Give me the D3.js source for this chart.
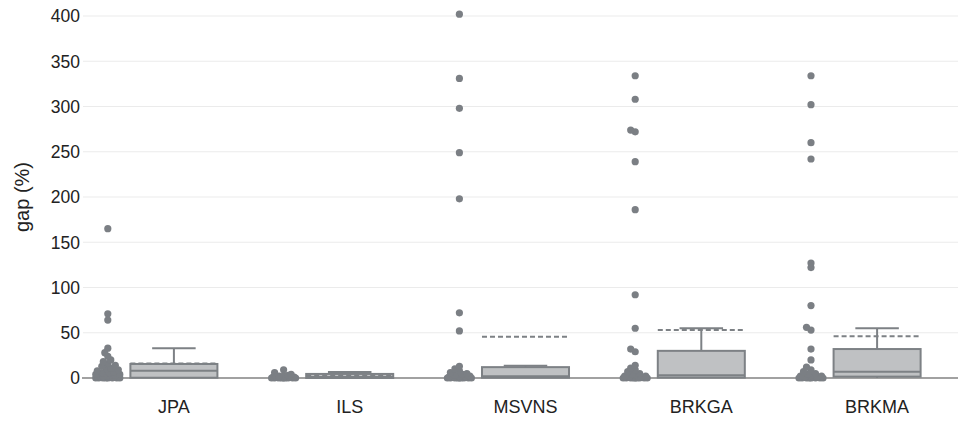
<!DOCTYPE html>
<html>
<head>
<meta charset="utf-8">
<script src="https://cdn.jsdelivr.net/npm/d3@7"></script>
<style>
    body { margin: 0; background: #fff; }
    svg { display: block; font-family: "Liberation Sans", Arial, sans-serif; }
</style>
</head>
<body>
<div class="chart"></div>
<script>
// categories and values
var categories = ["JPA", "ILS", "MSVNS", "BRKGA", "BRKMA"];

var pointsJPA   = [165, 71, 64, 33, 28, 24, 20, 18, 16, 14, 13, 11, 10, 9, 8, 7, 6, 6, 5, 4, 4, 3, 3, 2, 2, 2, 1, 1, 1, 1, 0.5, 0.5, 0.5, 0, 0, 0, 0, 0, 0, 0, 0];
var pointsILS   = [9, 6, 4, 3, 2, 2, 1.5, 1, 1, 1, 0.5, 0.5, 0.5, 0, 0, 0, 0, 0, 0, 0, 0, 0];
var pointsMSVNS = [402, 331, 298, 249, 198, 72, 52, 13, 10, 8, 6, 5, 4, 3, 2, 2, 1, 1, 1, 0.5, 0.5, 0, 0, 0, 0, 0, 0, 0, 0, 0];
var pointsBRKGA = [334, 308, 274, 272, 239, 186, 92, 55, 32, 29, 14, 11, 9, 7, 5, 4, 3, 2, 2, 1, 1, 0.5, 0.5, 0, 0, 0, 0, 0, 0, 0, 0, 0];
var pointsBRKMA = [334, 302, 260, 242, 127, 122, 80, 56, 53, 32, 20, 12, 9, 7, 5, 4, 3, 2, 2, 1, 1, 0.5, 0.5, 0, 0, 0, 0, 0, 0, 0, 0];

var q1Values     = [0.3, 0, 0.3, 0.5, 1.5];
var medianValues = [8, 1, 2, 3, 7];
var q3Values     = [15.5, 4.5, 12, 30, 32];
var upperFences  = [33, 6.5, 13.5, 55, 55];
var lowerFences  = [0, 0, 0, 0, 0];
var meanValues   = [16, 2.5, 45.5, 53, 46];

var yTicks = [0, 50, 100, 150, 200, 250, 300, 350, 400];

var allPoints = [pointsJPA, pointsILS, pointsMSVNS, pointsBRKGA, pointsBRKMA];

var width = 958, height = 421;
var lineColor = "#7d8185", boxFill = "#bfc1c3", dotColor = "#7b7f84", textColor = "#222";

var svg = d3.select(".chart").append("svg")
    .attr("width", width).attr("height", height);

var xScale = d3.scaleBand().domain(categories).range([86, 965]);
var yScale = d3.scaleLinear().domain([0, 400]).range([378, 16]);

var step = xScale.bandwidth();
var boxWidth = step * 0.495;
var dotOffset = -step * 0.376;

// grid
svg.append("g").selectAll("line")
    .data(yTicks.filter(function(d){ return d !== 0; }))
    .enter().append("line")
    .attr("x1", 83).attr("x2", width)
    .attr("y1", function(d){ return yScale(d); })
    .attr("y2", function(d){ return yScale(d); })
    .attr("stroke", "#ebebeb").attr("stroke-width", 1);

// y tick labels
svg.append("g").selectAll("text")
    .data(yTicks)
    .enter().append("text")
    .attr("x", 80)
    .attr("y", function(d){ return yScale(d); })
    .attr("dy", "0.36em")
    .attr("text-anchor", "end")
    .attr("font-size", 17.5)
    .attr("fill", textColor)
    .text(function(d){ return d; });

svg.append("text")
    .attr("transform", "translate(29," + yScale(200) + ") rotate(-90)")
    .attr("text-anchor", "middle")
    .attr("font-size", 20)
    .attr("fill", textColor)
    .text("gap (%)");

// x labels
svg.append("g").selectAll("text")
    .data(categories)
    .enter().append("text")
    .attr("x", function(d){ return xScale(d) + step / 2; })
    .attr("y", 413)
    .attr("text-anchor", "middle")
    .attr("font-size", 18)
    .attr("fill", textColor)
    .text(function(d){ return d; });

// zero line
svg.append("line")
    .attr("x1", 82).attr("x2", width)
    .attr("y1", yScale(0)).attr("y2", yScale(0))
    .attr("stroke", "#444").attr("stroke-width", 1.2);

// packed strip of points, kept inside a narrow band round cx
function swarm(values, cx){
    var r = 3.6, sep = 4.2, maxOff = 12;
    var placed = [];
    var sorted = values.slice().sort(function(a, b){ return a - b; });
    var offsets = [0];
    for (let k = 1; k * 1.5 <= maxOff; k++){ offsets.push(-k * 1.5, k * 1.5); }
    sorted.forEach(function(v){
        var y = yScale(v);
        var best = null, bestD = -1;
        for (let o of offsets){
            let dmin = Infinity;
            placed.forEach(function(p){
                let dx = p.x - (cx + o), dy = p.y - y;
                dmin = Math.min(dmin, Math.sqrt(dx * dx + dy * dy));
            });
            if (dmin >= sep){ best = o; break; }
            if (dmin > bestD){ bestD = dmin; best = o; }
        }
        placed.push({x: cx + best, y: y, r: r});
    });
    return placed;
}

categories.forEach(function(cat, i){
    var cx = xScale(cat) + step / 2;
    var g = svg.append("g");

    // points
    g.selectAll("circle")
        .data(swarm(allPoints[i], cx + dotOffset))
        .enter().append("circle")
        .attr("cx", function(d){ return d.x; })
        .attr("cy", function(d){ return d.y; })
        .attr("r", function(d){ return d.r; })
        .attr("fill", dotColor);

    var x0 = cx - boxWidth / 2, x1 = cx + boxWidth / 2;
    var capHalf = boxWidth / 4;

    // whiskers
    g.append("line")
        .attr("x1", cx).attr("x2", cx)
        .attr("y1", yScale(q3Values[i])).attr("y2", yScale(upperFences[i]))
        .attr("stroke", lineColor).attr("stroke-width", 2);
    g.append("line")
        .attr("x1", cx - capHalf).attr("x2", cx + capHalf)
        .attr("y1", yScale(upperFences[i])).attr("y2", yScale(upperFences[i]))
        .attr("stroke", lineColor).attr("stroke-width", 2);
    g.append("line")
        .attr("x1", cx).attr("x2", cx)
        .attr("y1", yScale(q1Values[i])).attr("y2", yScale(lowerFences[i]))
        .attr("stroke", lineColor).attr("stroke-width", 2);

    // box
    g.append("rect")
        .attr("x", x0).attr("width", boxWidth)
        .attr("y", yScale(q3Values[i]))
        .attr("height", yScale(q1Values[i]) - yScale(q3Values[i]))
        .attr("fill", boxFill)
        .attr("stroke", lineColor).attr("stroke-width", 2);

    // median
    g.append("line")
        .attr("x1", x0).attr("x2", x1)
        .attr("y1", yScale(medianValues[i])).attr("y2", yScale(medianValues[i]))
        .attr("stroke", lineColor).attr("stroke-width", 2);

    // mean (dashed)
    g.append("line")
        .attr("x1", x0).attr("x2", x1)
        .attr("y1", yScale(meanValues[i])).attr("y2", yScale(meanValues[i]))
        .attr("stroke", lineColor).attr("stroke-width", 2)
        .attr("stroke-dasharray", "5,3");
});
</script>
</body>
</html>
